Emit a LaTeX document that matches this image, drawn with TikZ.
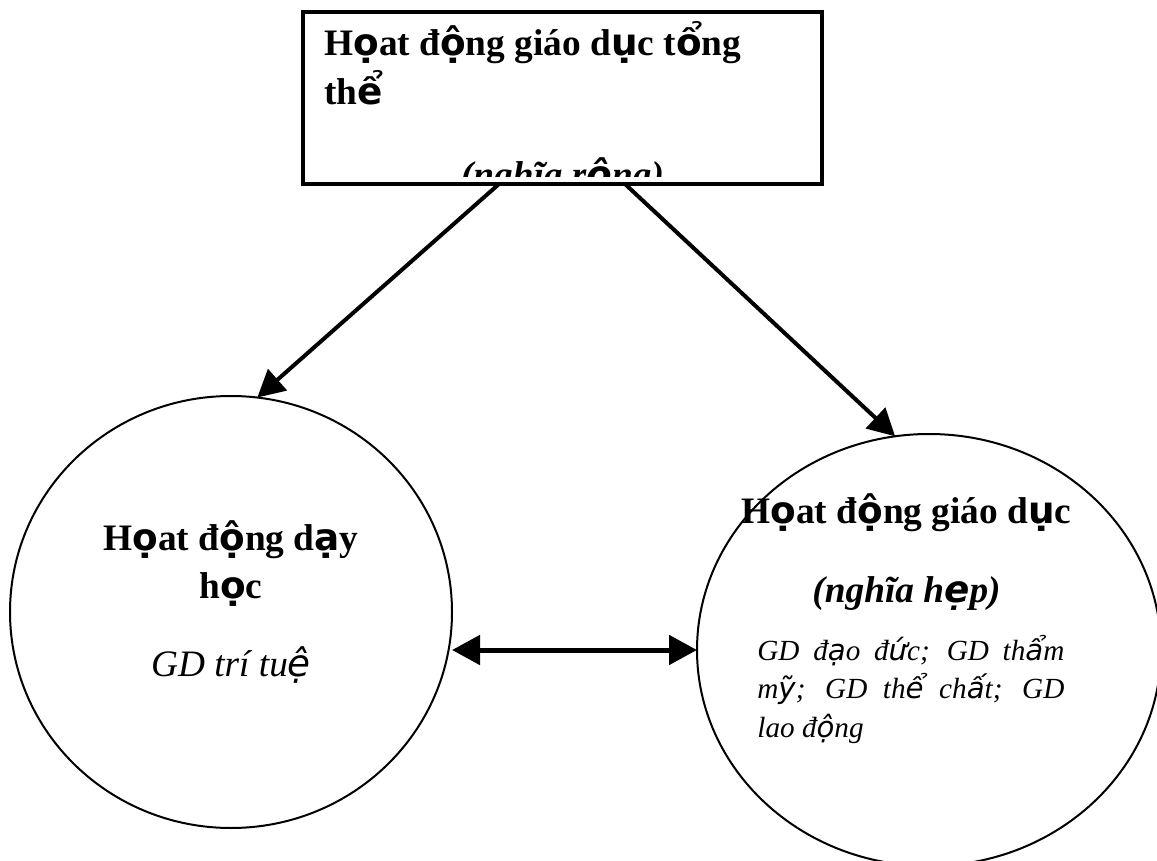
\documentclass[tikz,border=0pt]{standalone}
\usepackage{fontspec}
\setmainfont{Liberation Serif}
\newfontfamily\vnsans{DejaVu Sans}
\newcommand{\vn}[1]{{\vnsans #1}}
\usetikzlibrary{arrows.meta,positioning,calc,shapes.geometric}

\begin{document}
\begin{tikzpicture}[
    x=0.5pt, y=-0.5pt,
    font=\fontsize{18.67}{24.5}\selectfont,
    box/.style={draw, line width=2pt, minimum width=259.5pt, minimum height=86pt, inner sep=0pt, outer sep=0pt},
    oval/.style={draw, ellipse, line width=1pt, inner sep=0pt, outer sep=0pt},
    lbl/.style={inner sep=0pt, anchor=base},
    arr/.style={-{Triangle[length=13.5pt,width=14pt]}, line width=2pt},
    darr/.style={{Triangle[length=14pt,width=14.5pt]}-{Triangle[length=14pt,width=14.5pt]}, line width=2.5pt},
  ]
  \useasboundingbox (0,0) rectangle (1157,861);

  \node[box] (tong) at (562.5,98) {};
  \node[oval, minimum width=221pt, minimum height=216pt] (dayhoc) at (231,612) {};
  \node[oval, minimum width=232pt, minimum height=216pt] (giaoduc) at (929,650) {};

  % khung tren
  \node[lbl, anchor=base west] (tong1) at ($(tong.north west)+(21,44)$) {\bfseries H\vn{ọ}at đ\vn{ộ}ng giáo d\vn{ụ}c t\vn{ổ}ng};
  \node[lbl, anchor=base west] (tong2) at ($(tong1.base west)+(0,49)$) {\bfseries th\vn{ể}};
  \begin{scope}
    \clip ($(tong.north west)+(2,2)$) rectangle ($(tong.south east)+(-2,-7)$);
    \node[lbl] (tong3) at ($(tong.south)+(0,4)$) {\bfseries\itshape (nghĩa r\vn{ộ}ng)};
  \end{scope}

  % hinh tron trai
  \node[lbl] (dh1) at ($(dayhoc.center)+(0,-62)$) {\bfseries H\vn{ọ}at đ\vn{ộ}ng d\vn{ạ}y};
  \node[lbl] (dh2) at ($(dh1.base)+(0,48)$) {\bfseries h\vn{ọ}c};
  \node[lbl] (dh3) at ($(dh2.base)+(0,78)$) {\itshape GD trí tu\vn{ệ}};

  % hinh tron phai
  \node[lbl] (gd1) at ($(giaoduc.center)+(-22.5,-127)$) {\bfseries H\vn{ọ}at đ\vn{ộ}ng giáo d\vn{ụ}c};
  \node[lbl] (gd2) at ($(gd1.base)+(0,79)$) {\bfseries\itshape (nghĩa h\vn{ẹ}p)};
  \node[lbl, anchor=base west, text width=153.5pt, align=justify,
        font=\fontsize{14.6}{19.25}\selectfont\itshape] (gd3) at ($(giaoduc.center)+(-172,10)$)
    {GD đ\vn{ạ}o đ\vn{ứ}c; GD th\vn{ẩ}m\linebreak m\vn{ỹ}; GD th\vn{ể} ch\vn{ấ}t; GD\linebreak lao đ\vn{ộ}ng};

  \draw[arr] ($(tong.south)+(-63.5,0)$) -- (dayhoc.83.4);
  \draw[arr] ($(tong.south)+(62.5,0)$) -- (giaoduc.99.4);
  \draw[darr] (dayhoc.east |- giaoduc.west) -- (giaoduc.west);
\end{tikzpicture}
\end{document}
